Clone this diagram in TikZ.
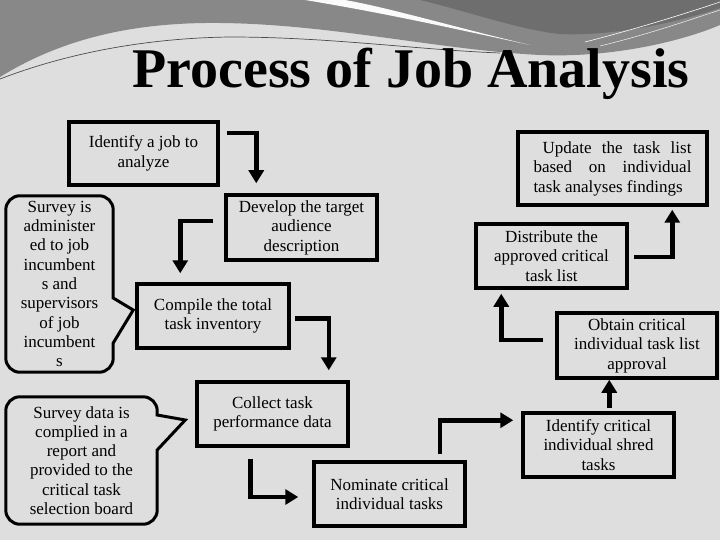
\documentclass[tikz,border=0pt]{standalone}
\usepackage{fontspec}
\setmainfont{Liberation Serif}
\usetikzlibrary{arrows.meta}

\definecolor{slide}{RGB}{222,222,222}
\definecolor{wave}{RGB}{136,136,136}
\definecolor{wavedark}{RGB}{110,110,110}

\tikzset{
  stepbox/.style={draw, line width=3.5pt, align=center, inner sep=0pt,
    font=\fontsize{17}{19.5}\selectfont},
  bubbletext/.style={align=center, inner sep=0pt, font=\fontsize{17}{19.3}\selectfont},
  bubble/.style={line width=3pt},
  flow/.style={line width=4.5pt, -{Triangle[width=15pt,length=13pt]}},
}

\newcommand{\Step}[6]{% name, x, y, w, h, text
  \node[stepbox, minimum width=#4pt, minimum height=#5pt] (#1) at (#2,#3) {#6};
}

\begin{document}
\begin{tikzpicture}[x=1pt, y=-1pt]
  \useasboundingbox (0,0) rectangle (720,540);
  % slide background and header wave
  \fill[slide] (0,0) rectangle (720,540);
  \fill[wave] (0,0) -- (720,0) -- (720,25)
    .. controls (680,42) and (610,58) .. (540,55)
    .. controls (440,50) and (330,24) .. (220,23)
    .. controls (130,22) and (60,40) .. (0,77) -- cycle;
  \fill[wavedark] (420,0) -- (720,0) -- (720,8)
    .. controls (660,28) and (600,36) .. (560,34)
    .. controls (520,30) and (470,12) .. (420,0) -- cycle;
  \fill[white!85!slide] (305,0)
    .. controls (390,14) and (460,30) .. (530,45)
    .. controls (450,26) and (390,8) .. (345,0) -- cycle;
  \draw[white, line width=0.6pt] (585,42) .. controls (640,28) and (690,12) .. (720,2);
  \draw[white!80!wave, line width=0.6pt] (600,46) .. controls (650,34) and (695,18) .. (720,10);
  \draw[black!70, line width=0.7pt] (0,79) .. controls (70,52) and (150,38) .. (230,37)
    .. controls (330,37) and (420,50) .. (500,53);
  %
  \node[anchor=base, font=\fontsize{56}{60}\selectfont\bfseries] (title) at (411,88)
    {Process of Job Analysis};
  %
  \Step{job}{143.5}{153.5}{149}{63}{Identify a job to\\analyze}
  \Step{target}{301.5}{227.5}{151}{65}{Develop the target\\audience\\description}
  \Step{inventory}{213}{316}{152}{64}{Compile the total\\task inventory}
  \Step{collect}{272.5}{414}{151}{64}{Collect task\\performance data}
  \Step{nominate}{389.5}{494}{151}{64}{Nominate critical\\individual tasks}
  \Step{shred}{598.5}{445}{151}{64}{Identify critical\\individual shred\\tasks}
  \Step{approval}{637}{345.5}{160}{65}{Obtain critical\\individual task list\\approval}
  \Step{distribute}{551.5}{256}{151}{64}{Distribute the\\approved critical\\task list}
  \node[stepbox, minimum width=189pt, minimum height=73pt, text width=158pt,
    align=justify] (update) at (612.5,168.5)
    {\hspace*{9pt}Update the task list based on individual task analyses findings};
  %
  % speech bubbles
  \node[bubbletext, minimum width=107pt, minimum height=176pt] (survey) at (59.5,284)
    {Survey is\\administer\\ed to job\\incumbent\\s and\\supervisors\\of job\\incumbent\\s};
  \draw[bubble] ([shift={(0,14)}]survey.east) -- ([shift={(-2,-6)}]inventory.west)
    -- ([shift={(0,59)}]survey.east) [rounded corners=14pt] -- (survey.south east)
    -- (survey.south west) -- (survey.north west) -- (survey.north east)
    [sharp corners] -- cycle;
  \node[bubbletext, minimum width=151pt, minimum height=127pt] (report) at (81.5,460.5)
    {Survey data is\\complied in a\\report and\\provided to the\\critical task\\selection board};
  \draw[bubble] ([shift={(0,-45.5)}]report.east) -- ([shift={(-10,6)}]collect.west)
    -- ([shift={(0,-10.5)}]report.east) [rounded corners=14pt] -- (report.south east)
    -- (report.south west) -- (report.north west) -- (report.north east)
    [sharp corners] -- cycle;
  %
  % flow
  \draw[flow] ([shift={(7,13)}]job.north east) -| ([shift={(32,-10)}]target.north west);
  \draw[flow] ([shift={(-11,28)}]target.north west) -| ([shift={(45,-9)}]inventory.north west);
  \draw[flow] ([shift={(4,36)}]inventory.north east) -| ([shift={(-21,-10)}]collect.north east);
  \draw[flow] ([shift={(55,11)}]collect.south west) |- ([shift={(-14,3)}]nominate.west);
  \draw[flow] ([shift={(-27,-6)}]nominate.north east) |- ([shift={(-8,9)}]shred.north west);
  \draw[flow] ([shift={(88,-3)}]shred.north west) -- ([shift={(54,0)}]approval.south west);
  \draw[flow] ([shift={(-12,-5.5)}]approval.west) -| ([shift={(27,4)}]distribute.south west);
  \draw[flow] ([shift={(5,1)}]distribute.east) -| ([shift={(156,3)}]update.south west);
\end{tikzpicture}
\end{document}
